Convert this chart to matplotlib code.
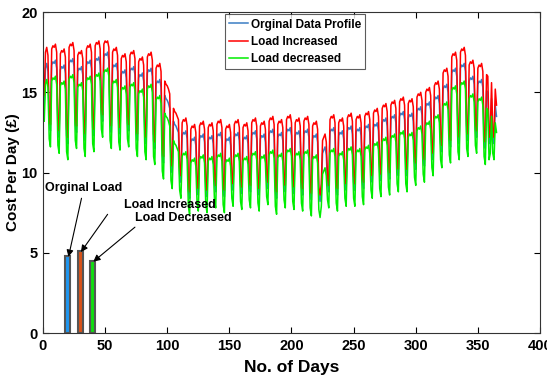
import numpy as np
import matplotlib
matplotlib.use('Agg')
import matplotlib.pyplot as plt

plt.rcParams['font.family'] = ['Liberation Sans', 'DejaVu Sans']
plt.rcParams['font.weight'] = 'bold'

# daily cost per day (one row per week, Sat..Fri; first and last rows are partial weeks)
original_cost = [
    14.2, 16.5, 16.8, 16.3,
    13.1, 12.6, 16.7, 16.9, 16.8, 17.0, 16.5,
    12.7, 12.2, 16.4, 16.6, 16.5, 16.7, 16.2,
    12.3, 11.8, 16.8, 17.0, 16.9, 17.1, 16.6,
    13.0, 12.5, 16.3, 16.5, 16.4, 16.6, 16.1,
    12.5, 12.0, 16.7, 16.9, 16.8, 17.0, 16.5,
    12.8, 12.3, 16.9, 17.1, 17.0, 17.2, 16.7,
    13.7, 13.2, 17.2, 17.4, 17.3, 17.5, 17.0,
    13.0, 12.5, 16.5, 16.7, 16.6, 16.8, 16.3,
    12.9, 12.4, 16.1, 16.3, 16.2, 16.4, 15.9,
    13.1, 12.6, 16.3, 16.5, 16.4, 16.6, 16.1,
    12.5, 12.0, 15.9, 16.1, 16.0, 16.2, 15.7,
    12.3, 11.8, 16.2, 16.4, 16.3, 16.5, 16.0,
    12.0, 11.5, 15.5, 15.7, 15.6, 15.8, 15.3,
    11.1, 10.6, 14.8, 14.6, 14.5, 14.3, 14.0,
    10.5, 10.0, 13.2, 13.0, 12.9, 12.7, 12.5,
    9.9, 9.4, 12.3, 12.5, 12.4, 12.6, 12.1,
    8.9, 8.4, 11.9, 12.1, 12.0, 12.2, 11.7,
    9.1, 8.6, 12.1, 12.3, 12.2, 12.4, 11.9,
    9.0, 8.5, 12.0, 12.2, 12.1, 12.3, 11.8,
    9.3, 8.8, 12.2, 12.4, 12.3, 12.5, 12.0,
    9.0, 8.5, 11.9, 12.1, 12.0, 12.2, 11.7,
    9.4, 8.9, 12.2, 12.4, 12.3, 12.5, 12.0,
    9.2, 8.7, 12.0, 12.2, 12.1, 12.3, 11.8,
    9.3, 8.8, 12.3, 12.5, 12.4, 12.6, 12.1,
    9.1, 8.6, 12.1, 12.3, 12.2, 12.4, 11.9,
    9.5, 9.0, 12.4, 12.6, 12.5, 12.7, 12.2,
    8.9, 8.4, 12.2, 12.4, 12.3, 12.5, 12.0,
    9.3, 8.8, 12.5, 12.7, 12.6, 12.8, 12.3,
    9.2, 8.7, 12.3, 12.5, 12.4, 12.6, 12.1,
    9.1, 8.6, 12.4, 12.6, 12.5, 12.7, 12.2,
    8.8, 8.3, 12.1, 12.3, 12.2, 12.4, 11.9,
    8.7, 8.2, 8.9, 11.2, 11.4, 11.6, 11.1,
    9.3, 8.8, 12.5, 12.7, 12.6, 12.8, 12.3,
    9.1, 8.6, 12.3, 12.5, 12.4, 12.6, 12.1,
    9.4, 8.9, 12.6, 12.8, 12.7, 12.9, 12.4,
    9.4, 8.9, 12.5, 12.7, 12.6, 12.8, 12.3,
    9.5, 9.0, 12.7, 12.9, 12.8, 13.0, 12.5,
    9.9, 9.4, 12.8, 13.0, 12.9, 13.1, 12.6,
    10.0, 9.5, 13.1, 13.3, 13.2, 13.4, 12.9,
    10.1, 9.6, 13.3, 13.5, 13.4, 13.6, 13.1,
    10.3, 9.8, 13.5, 13.7, 13.6, 13.8, 13.3,
    10.3, 9.8, 13.4, 13.6, 13.5, 13.7, 13.2,
    10.7, 10.2, 13.8, 14.0, 13.9, 14.1, 13.6,
    10.9, 10.4, 14.1, 14.3, 14.2, 14.4, 13.9,
    11.3, 10.8, 14.5, 14.7, 14.6, 14.8, 14.3,
    11.8, 11.3, 15.2, 15.4, 15.3, 15.5, 15.0,
    12.1, 11.6, 16.2, 16.4, 16.3, 16.5, 16.0,
    12.3, 11.8, 16.5, 16.7, 16.6, 16.8, 16.3,
    12.5, 12.0, 15.7, 15.9, 15.8, 16.0, 15.5,
    12.7, 12.2, 15.5, 15.7, 15.6, 15.8, 15.3,
    12.0, 11.5, 15.1, 15.0, 11.8, 12.2, 14.6,
    12.2, 11.8, 14.2, 13.5,
]

increased_cost = [
    14.8, 17.5, 17.8, 17.3,
    13.5, 13.0, 17.7, 17.9, 17.8, 18.0, 17.5,
    13.1, 12.6, 17.4, 17.6, 17.5, 17.7, 17.2,
    12.7, 12.2, 17.8, 18.0, 17.9, 18.1, 17.6,
    13.4, 12.9, 17.3, 17.5, 17.4, 17.6, 17.1,
    12.9, 12.4, 17.7, 17.9, 17.8, 18.0, 17.5,
    13.2, 12.7, 17.9, 18.1, 18.0, 18.2, 17.7,
    14.1, 13.6, 18.0, 18.2, 18.1, 18.2, 17.8,
    13.4, 12.9, 17.5, 17.7, 17.6, 17.8, 17.3,
    13.3, 12.8, 17.1, 17.3, 17.2, 17.4, 16.9,
    13.5, 13.0, 17.3, 17.5, 17.4, 17.6, 17.1,
    12.9, 12.4, 16.9, 17.1, 17.0, 17.2, 16.7,
    12.7, 12.2, 17.2, 17.4, 17.3, 17.5, 17.0,
    12.4, 11.9, 16.5, 16.7, 16.6, 16.8, 16.3,
    11.5, 11.0, 15.7, 15.5, 15.4, 15.2, 14.9,
    10.9, 10.4, 14.0, 13.8, 13.7, 13.5, 13.3,
    10.3, 9.8, 13.1, 13.3, 13.2, 13.4, 12.9,
    9.3, 8.8, 12.7, 12.9, 12.8, 13.0, 12.5,
    9.5, 9.0, 12.9, 13.1, 13.0, 13.2, 12.7,
    9.4, 8.9, 12.8, 13.0, 12.9, 13.1, 12.6,
    9.7, 9.2, 13.0, 13.2, 13.1, 13.3, 12.8,
    9.4, 8.9, 12.7, 12.9, 12.8, 13.0, 12.5,
    9.8, 9.3, 13.0, 13.2, 13.1, 13.3, 12.8,
    9.6, 9.1, 12.8, 13.0, 12.9, 13.1, 12.6,
    9.7, 9.2, 13.1, 13.3, 13.2, 13.4, 12.9,
    9.5, 9.0, 12.9, 13.1, 13.0, 13.2, 12.7,
    9.9, 9.4, 13.2, 13.4, 13.3, 13.5, 13.0,
    9.3, 8.8, 13.0, 13.2, 13.1, 13.3, 12.8,
    9.7, 9.2, 13.3, 13.5, 13.4, 13.6, 13.1,
    9.6, 9.1, 13.1, 13.3, 13.2, 13.4, 12.9,
    9.5, 9.0, 13.2, 13.4, 13.3, 13.5, 13.0,
    9.2, 8.7, 12.9, 13.1, 13.0, 13.2, 12.7,
    9.1, 8.6, 9.3, 12.0, 12.2, 12.4, 11.9,
    9.7, 9.2, 13.3, 13.5, 13.4, 13.6, 13.1,
    9.5, 9.0, 13.1, 13.3, 13.2, 13.4, 12.9,
    9.8, 9.3, 13.4, 13.6, 13.5, 13.7, 13.2,
    9.8, 9.3, 13.3, 13.5, 13.4, 13.6, 13.1,
    9.9, 9.4, 13.5, 13.7, 13.6, 13.8, 13.3,
    10.3, 9.8, 13.7, 13.9, 13.8, 14.0, 13.5,
    10.4, 9.9, 14.0, 14.2, 14.1, 14.3, 13.8,
    10.5, 10.0, 14.2, 14.4, 14.3, 14.5, 14.0,
    10.7, 10.2, 14.4, 14.6, 14.5, 14.7, 14.2,
    10.7, 10.2, 14.3, 14.5, 14.4, 14.6, 14.1,
    11.1, 10.6, 14.7, 14.9, 14.8, 15.0, 14.5,
    11.3, 10.8, 15.0, 15.2, 15.1, 15.3, 14.8,
    11.7, 11.2, 15.4, 15.6, 15.5, 15.7, 15.2,
    12.2, 11.7, 16.2, 16.4, 16.3, 16.5, 16.0,
    12.5, 12.0, 17.2, 17.4, 17.3, 17.5, 17.0,
    12.7, 12.2, 17.5, 17.7, 17.6, 17.8, 17.3,
    12.9, 12.4, 16.7, 16.9, 16.8, 17.0, 16.5,
    13.1, 12.6, 16.5, 16.7, 16.6, 16.8, 16.3,
    12.4, 11.9, 16.1, 16.0, 12.2, 12.6, 15.6,
    12.6, 12.2, 15.2, 14.2,
]

decreased_cost = [
    13.2, 15.5, 15.8, 15.3,
    12.1, 11.6, 15.7, 15.9, 15.8, 16.0, 15.5,
    11.7, 11.2, 15.4, 15.6, 15.5, 15.7, 15.2,
    11.3, 10.8, 15.8, 16.0, 15.9, 16.1, 15.6,
    12.0, 11.5, 15.3, 15.5, 15.4, 15.6, 15.1,
    11.5, 11.0, 15.7, 15.9, 15.8, 16.0, 15.5,
    11.8, 11.3, 15.9, 16.1, 16.0, 16.2, 15.7,
    12.7, 12.2, 16.2, 16.4, 16.3, 16.5, 16.0,
    12.0, 11.5, 15.5, 15.7, 15.6, 15.8, 15.3,
    11.9, 11.4, 15.1, 15.3, 15.2, 15.4, 14.9,
    12.1, 11.6, 15.3, 15.5, 15.4, 15.6, 15.1,
    11.5, 11.0, 14.9, 15.1, 15.0, 15.2, 14.7,
    11.3, 10.8, 15.2, 15.4, 15.3, 15.5, 15.0,
    11.0, 10.5, 14.5, 14.7, 14.6, 14.8, 14.3,
    10.1, 9.6, 13.7, 13.5, 13.4, 13.2, 12.9,
    9.5, 9.0, 12.0, 11.8, 11.7, 11.5, 11.3,
    8.9, 8.4, 11.0, 11.2, 11.1, 11.3, 10.8,
    7.9, 7.4, 10.6, 10.8, 10.7, 10.9, 10.4,
    8.1, 7.6, 10.8, 11.0, 10.9, 11.1, 10.6,
    8.0, 7.5, 10.7, 10.9, 10.8, 11.0, 10.5,
    8.3, 7.8, 10.9, 11.1, 11.0, 11.2, 10.7,
    8.0, 7.5, 10.6, 10.8, 10.7, 10.9, 10.4,
    8.4, 7.9, 10.9, 11.1, 11.0, 11.2, 10.7,
    8.2, 7.7, 10.7, 10.9, 10.8, 11.0, 10.5,
    8.3, 7.8, 11.0, 11.2, 11.1, 11.3, 10.8,
    8.1, 7.6, 10.8, 11.0, 10.9, 11.1, 10.6,
    8.5, 8.0, 11.1, 11.3, 11.2, 11.4, 10.9,
    7.9, 7.4, 10.9, 11.1, 11.0, 11.2, 10.7,
    8.3, 7.8, 11.2, 11.4, 11.3, 11.5, 11.0,
    8.2, 7.7, 11.0, 11.2, 11.1, 11.3, 10.8,
    8.1, 7.6, 11.1, 11.3, 11.2, 11.4, 10.9,
    7.8, 7.3, 10.8, 11.0, 10.9, 11.1, 10.6,
    7.7, 7.2, 7.9, 9.9, 10.1, 10.3, 9.8,
    8.3, 7.8, 11.2, 11.4, 11.3, 11.5, 11.0,
    8.1, 7.6, 11.0, 11.2, 11.1, 11.3, 10.8,
    8.4, 7.9, 11.3, 11.5, 11.4, 11.6, 11.1,
    8.4, 7.9, 11.2, 11.4, 11.3, 11.5, 11.0,
    8.5, 8.0, 11.4, 11.6, 11.5, 11.7, 11.2,
    8.9, 8.4, 11.6, 11.8, 11.7, 11.9, 11.4,
    9.0, 8.5, 11.9, 12.1, 12.0, 12.2, 11.7,
    9.1, 8.6, 12.1, 12.3, 12.2, 12.4, 11.9,
    9.3, 8.8, 12.3, 12.5, 12.4, 12.6, 12.1,
    9.3, 8.8, 12.2, 12.4, 12.3, 12.5, 12.0,
    9.7, 9.2, 12.6, 12.8, 12.7, 12.9, 12.4,
    9.9, 9.4, 12.9, 13.1, 13.0, 13.2, 12.7,
    10.3, 9.8, 13.3, 13.5, 13.4, 13.6, 13.1,
    10.8, 10.3, 14.1, 14.3, 14.2, 14.4, 13.9,
    11.1, 10.6, 15.1, 15.3, 15.2, 15.4, 14.9,
    11.3, 10.8, 15.4, 15.6, 15.5, 15.7, 15.2,
    11.5, 11.0, 14.6, 14.8, 14.7, 14.9, 14.4,
    11.7, 11.2, 14.4, 14.6, 14.5, 14.7, 14.2,
    11.0, 10.5, 14.0, 13.9, 10.8, 11.2, 13.5,
    11.2, 10.8, 13.1, 12.5,
]

# average cost per day bars
bar_days = [20, 30, 40]
bar_costs = [4.8, 5.1, 4.5]
bar_labels = ['Orginal Load', 'Load Increased', 'Load Decreased']

days = np.arange(1, len(original_cost) + 1)

fig = plt.figure(figsize=(5.47, 3.82), dpi=100)
ax = fig.add_axes([0.0786, 0.128, 0.9086, 0.8405])

ax.plot(days, original_cost, color='#3a7dc4', lw=1.1, label='Orginal Data Profile')
ax.plot(days, increased_cost, color='#ff0000', lw=1.1, label='Load Increased')
ax.plot(days, decreased_cost, color='#00ee00', lw=1.1, label='Load decreased')

ax.bar(bar_days, bar_costs, width=4.2, color=['#1e96f0', '#d95319', '#11dd11'],
       edgecolor='#555555', linewidth=1.5)

# labels with arrows pointing at the bars
text_pos = [(33, 9.05), (102, 7.95), (113, 7.15)]
arrow_start = [(31, 8.4), (52, 7.4), (74, 6.6)]
for i in range(3):
    ax.text(text_pos[i][0], text_pos[i][1], bar_labels[i], ha='center', va='center',
            fontsize=9, fontweight='bold')
    ax.annotate('', xy=(bar_days[i] + 0.5, bar_costs[i] - 0.05), xytext=arrow_start[i],
                arrowprops=dict(arrowstyle='-|>', color='black', lw=0.8,
                                mutation_scale=10, shrinkA=0, shrinkB=0))

ax.set_xlim(0, 400)
ax.set_ylim(0, 20)
ax.set_xticks(np.arange(0, 401, 50))
ax.set_yticks(np.arange(0, 21, 5))
ax.tick_params(direction='in', top=True, right=True, length=4, width=0.8,
               labelsize=10.5, pad=4)
for lab in ax.get_xticklabels() + ax.get_yticklabels():
    lab.set_fontweight('bold')
for sp in ax.spines.values():
    sp.set_color('#333333')
    sp.set_linewidth(0.8)

ax.set_xlabel('No. of Days', fontsize=12.5, fontweight='bold', labelpad=5)
ax.set_ylabel('Cost Per Day (£)', fontsize=11, fontweight='bold', labelpad=1)

leg = ax.legend(loc='upper left', bbox_to_anchor=(0.362, 1.0), fontsize=8.5,
                frameon=True, fancybox=False, edgecolor='#333333',
                handlelength=1.6, handletextpad=0.2, borderpad=0.35,
                labelspacing=0.45, borderaxespad=0.2)
leg.get_frame().set_linewidth(0.8)
for t in leg.get_texts():
    t.set_fontweight('bold')

fig.savefig('out.png', dpi=100)
